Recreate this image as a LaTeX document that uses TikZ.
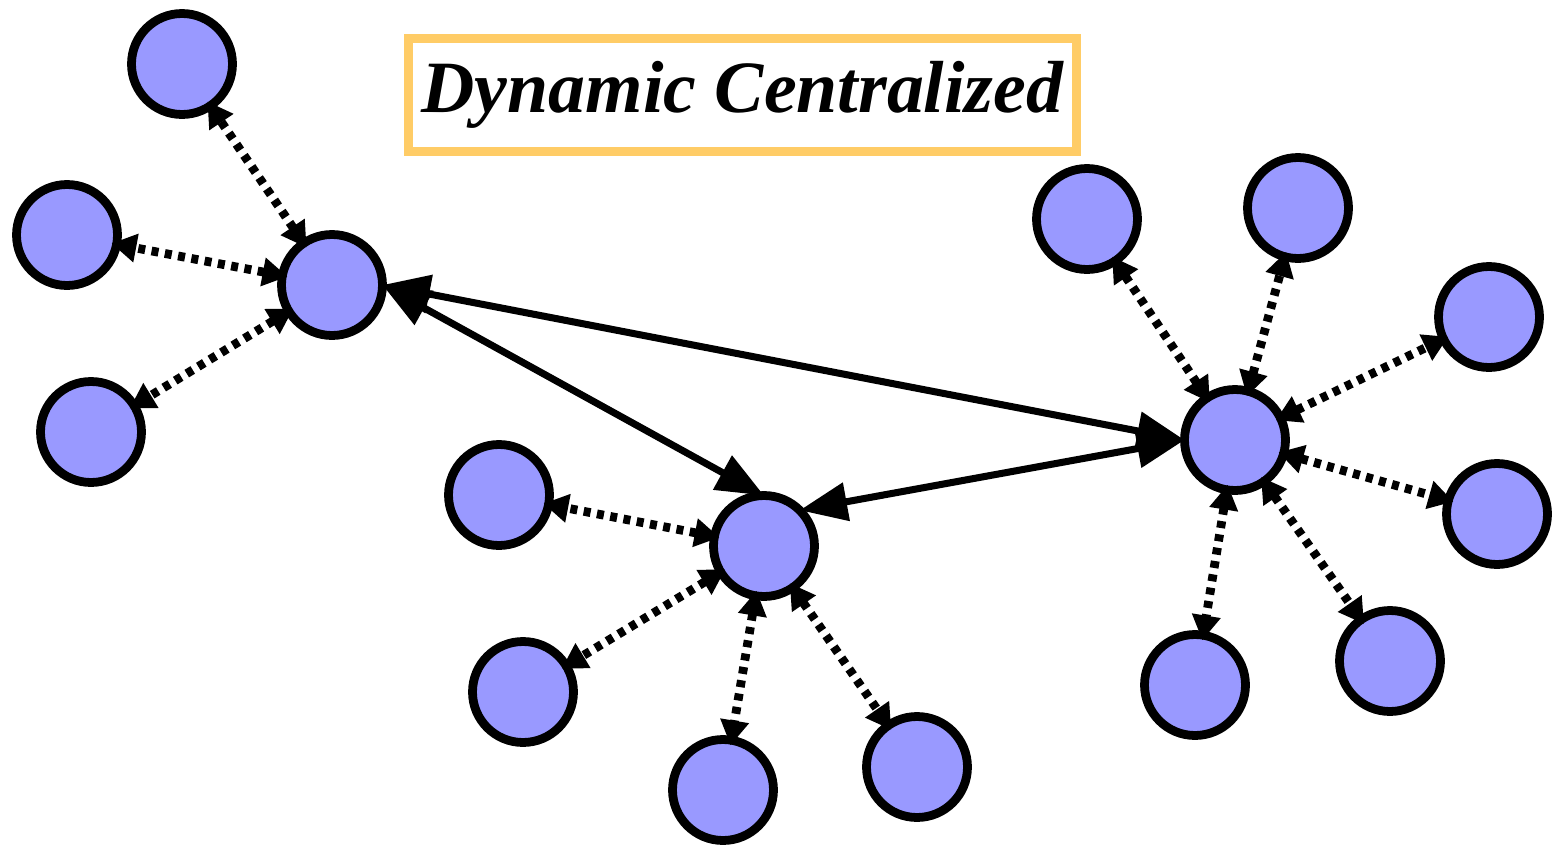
\documentclass[tikz,border=0pt]{standalone}
\usepackage{fontspec}
\setmainfont{Liberation Serif}
\usetikzlibrary{arrows.meta}
\definecolor{peerFill}{HTML}{9999FF}
\definecolor{titleFrame}{HTML}{FFCC66}

\begin{document}
\begin{tikzpicture}[
  x=0.02cm,
  y=-0.02cm,
  peer/.style={
    circle,
    draw=black,
    line width=5pt,
    fill=peerFill,
    minimum size=2.02cm,
    inner sep=0pt,
    outer sep=0pt,
  },
  link/.style={
    line width=4pt,
    {Triangle[length=0.95cm,width=0.75cm]}-{Triangle[length=0.95cm,width=0.75cm]},
  },
  spoke/.style={
    line width=5pt,
    dash pattern=on 0.14cm off 0.13cm,
    shorten <=-3pt, shorten >=-3pt,
    {Triangle[length=0.5cm,width=0.55cm]}-{Triangle[length=0.5cm,width=0.55cm]},
  },
  titlebox/.style={
    draw=titleFrame,
    line width=5pt,
    minimum width=13.35cm,
    minimum height=2.25cm,
    font=\fontsize{42pt}{50pt}\selectfont\bfseries\itshape,
  }
]
\useasboundingbox (0,0) rectangle (1552,845);

\node[titlebox] (title) at (742.5,95) {Dynamic Centralized};

% hubs
\node[peer] (h1) at (332,285) {};
\node[peer] (h2) at (764,546) {};
\node[peer] (h3) at (1235,440) {};

% leaves of each hub
\foreach \n/\x/\y in {a1/182/64, a2/67/235, a3/91/432,
                      b1/499/495, b2/523/692, b3/723/790, b4/917/767,
                      c1/1087/219, c2/1298/208, c3/1489/317,
                      c4/1497/514, c5/1390/661, c6/1195/685}
  \node[peer] (\n) at (\x,\y) {};

\foreach \leaf in {a1,a2,a3}
  \draw[spoke] (h1) -- (\leaf);
\foreach \leaf in {b1,b2,b3,b4}
  \draw[spoke] (h2) -- (\leaf);
\foreach \leaf in {c1,c2,c3,c4,c5,c6}
  \draw[spoke] (h3) -- (\leaf);

% links between hubs
\draw[link] (h1.east) -- (h3.west);
\draw[link] (h1.east) -- (h2.north);
\draw[link] (h2.north east) -- (h3.west);
\end{tikzpicture}
\end{document}
